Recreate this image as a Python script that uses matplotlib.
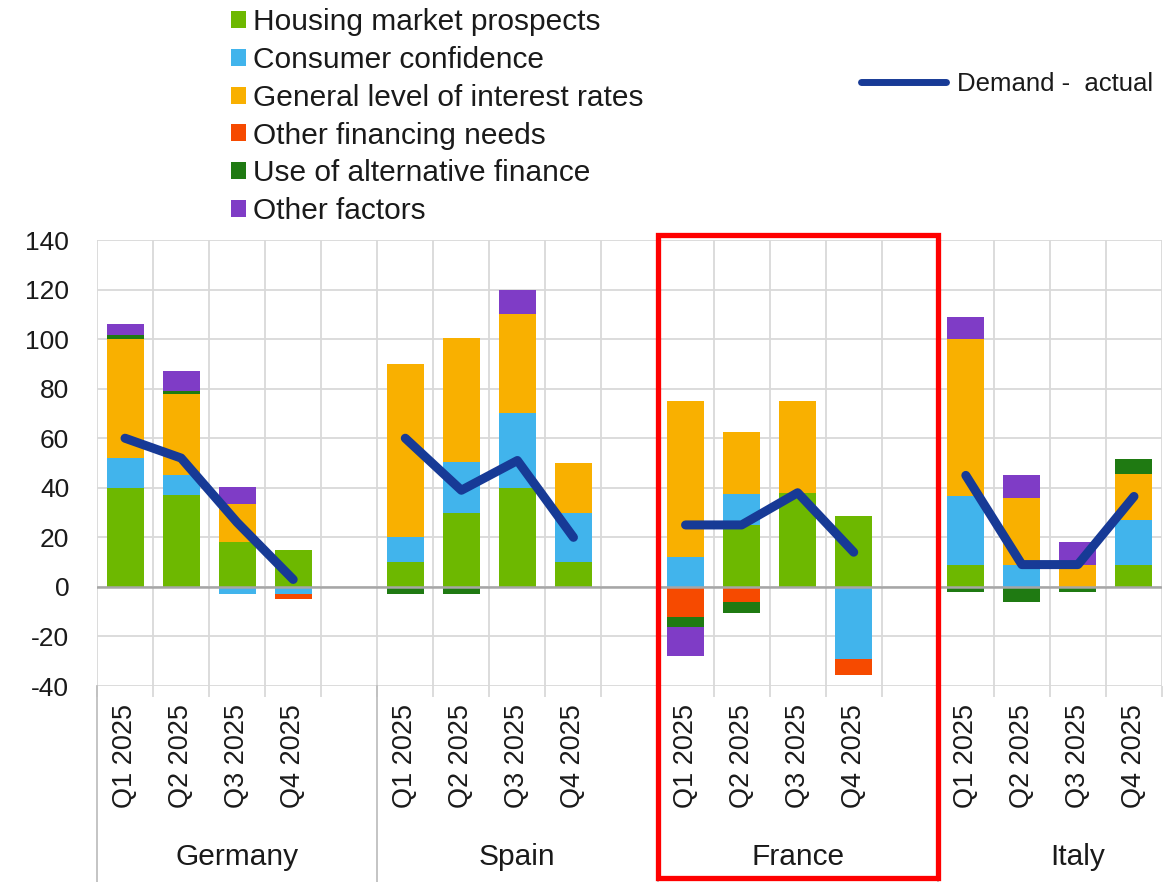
import matplotlib
matplotlib.use("Agg")
import matplotlib.pyplot as plt
import numpy as np
from matplotlib.patches import Patch, Rectangle
from matplotlib.lines import Line2D
import matplotlib.transforms as mtransforms

plt.rcParams["font.family"] = ["Liberation Sans", "DejaVu Sans"]
plt.rcParams["axes.unicode_minus"] = False

countries = ["Germany", "Spain", "France", "Italy"]
quarters = ["Q1 2025", "Q2 2025", "Q3 2025", "Q4 2025"]

# order: Germany Q1-Q4, Spain Q1-Q4, France Q1-Q4, Italy Q1-Q4
housing = [40, 37, 18, 15, 10, 30, 40, 10, 0, 25, 38, 28.5, 9, 0, 0, 9]
consumer = [12, 8, -3, -3, 10, 20.5, 30, 20, 12, 12.5, 0, -29, 27.5, 9, 0, 18]
interest = [48, 33, 15.5, 0, 70, 50, 40, 20, 63, 25, 37, 0, 63.5, 27, 9, 18.5]
other_fin = [0, 0, 0, -2, 0, 0, 0, 0, -12, -6, 0, -6.5, 0, 0, 0, 0]
alt_fin = [1.5, 1, 0, 0, -3, -3, 0, 0, -4, -4.5, 0, 0, -2, -6, -2, 6]
other = [4.5, 8, 7, 0, 0, 0, 10, 0, -12, 0, 0, 0, 9, 9, 9, 0]
demand = [60, 52, 26, 3, 60, 39, 51, 20, 25, 25, 38, 14, 45, 9, 9, 36.5]

series = [
    ("Housing market prospects", housing, "#6DB800"),
    ("Consumer confidence", consumer, "#41B4EC"),
    ("General level of interest rates", interest, "#F9B000"),
    ("Other financing needs", other_fin, "#F64A00"),
    ("Use of alternative finance", alt_fin, "#1F7A12"),
    ("Other factors", other, "#7F3CC6"),
]
LINE_C = "#173A96"
TXT = "#1a1a1a"
GRID = "#D9D9D9"
FS = 19

W, H = 1167, 882
fig = plt.figure(figsize=(W / 100, H / 100), dpi=100)
ax = fig.add_axes([97 / W, 1 - 686 / H, (1162 - 97) / W, (686 - 240) / H])

# slot positions: 4 quarters per country, one empty slot between countries
x = np.array([g * 5 + q for g in range(len(countries)) for q in range(len(quarters))])

pos_bottom = np.zeros(len(x))
neg_bottom = np.zeros(len(x))
for name, vals, col in series:
    v = np.array(vals, dtype=float)
    bottom = np.where(v >= 0, pos_bottom, neg_bottom)
    ax.bar(x, v, bottom=bottom, width=0.66, color=col, zorder=2, linewidth=0)
    pos_bottom += np.clip(v, 0, None)
    neg_bottom += np.clip(v, None, 0)

ax.axhline(0, color="#A6A6A6", lw=1.8, zorder=2.5)

d = np.array(demand)
for g in range(len(countries)):
    sl = slice(g * 4, g * 4 + 4)
    ax.plot(x[sl], d[sl], color=LINE_C, lw=6.5, solid_capstyle="round",
            solid_joinstyle="round", zorder=3)

ax.set_xlim(-0.5, 18.5)
ax.set_ylim(-40, 140)
ax.set_yticks(np.arange(-40, 141, 20))
ax.set_xticks(x, labels=quarters * len(countries), rotation=90)
ax.set_xticks(np.arange(-0.5, 19, 1), minor=True)
ax.grid(which="minor", axis="x", color=GRID, lw=1.3)
ax.grid(which="major", axis="y", color=GRID, lw=1.3)
ax.set_axisbelow(True)
ax.tick_params(axis="x", which="major", length=0, pad=13, labelsize=19.5, labelcolor=TXT)
ax.tick_params(axis="x", which="minor", length=8, color=GRID, width=1.3)
ax.tick_params(axis="y", length=0, pad=20, labelsize=FS, labelcolor=TXT)
for s in ax.spines.values():
    s.set_visible(False)

# group separators and country names
tr = mtransforms.blended_transform_factory(ax.transData, ax.transAxes)
bottom_ax = -(H - 686) / (686 - 240)
for b in [-0.5, 4.5, 9.5, 14.5]:
    ax.plot([b, b], [0, bottom_ax], color="#BFBFBF", lw=1.3, transform=tr, clip_on=False)
for g, c in enumerate(countries):
    ax.text(g * 5 + 2, -0.383, c, transform=tr, ha="center", va="center",
            fontsize=21.5, color=TXT)

# red highlight box around France
trf = mtransforms.blended_transform_factory(ax.transData, fig.transFigure)
ax.add_patch(Rectangle((9.5, 1 - 878 / H), 5.0, (878 - 235) / H, transform=trf,
                       fill=False, edgecolor="#FF0000", lw=3.8, clip_on=False, zorder=5))

# legends
bar_handles = [Patch(facecolor=c, edgecolor="none") for _, _, c in series]
fig.legend(bar_handles, [n for n, _, _ in series], loc="upper left",
           bbox_to_anchor=(231 / W, 1 - 8 / H), frameon=False,
           handlelength=0.5, handleheight=0.5, handletextpad=0.25,
           labelspacing=0.33, borderpad=0, borderaxespad=0, fontsize=21.5,
           labelcolor=TXT)
fig.legend([Line2D([], [], color=LINE_C, lw=5, solid_capstyle="round")],
           ["Demand -  actual"], loc="center left",
           bbox_to_anchor=(861 / W, 1 - 84 / H), frameon=False,
           handlelength=3.3, handletextpad=0.45, borderpad=0, borderaxespad=0,
           fontsize=18.5, labelcolor=TXT)

fig.savefig("out.png", dpi=100)
